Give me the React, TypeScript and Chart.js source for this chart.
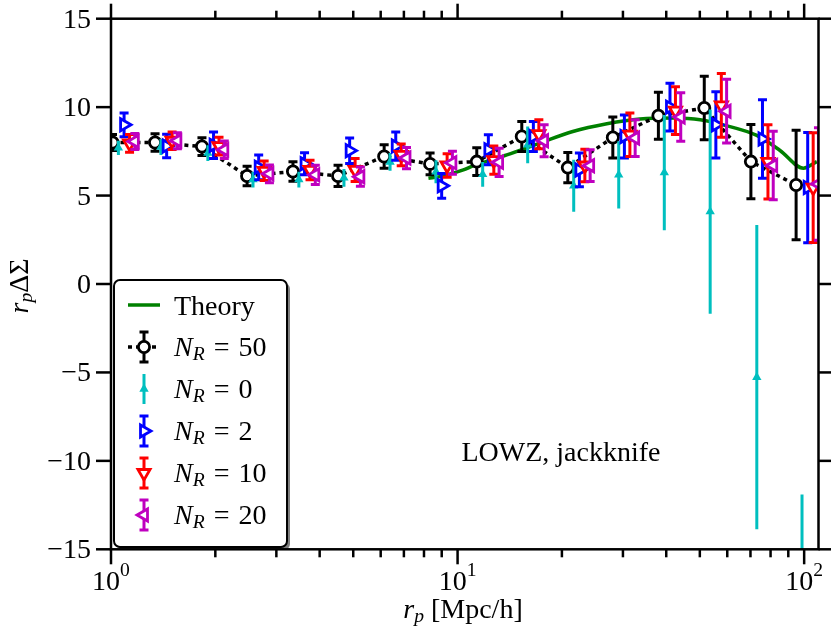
import { useEffect, useRef } from "react";
import { Chart, registerables } from "chart.js";
Chart.register(...registerables);

// bin centres, r_p in Mpc/h
const rp = [1.01, 1.34, 1.83, 2.47, 3.35, 4.52, 6.14, 8.33, 11.36, 15.32, 20.8, 28.05, 37.97, 51.5, 70.2, 94.8];

const nr50 = [8.0, 8.0, 7.77, 6.11, 6.36, 6.11, 7.21, 6.79, 6.92, 8.34, 6.58, 8.28, 9.51, 9.95, 6.92, 5.6];
const nr50Err = [0.45, 0.5, 0.5, 0.55, 0.55, 0.6, 0.66, 0.62, 0.78, 0.85, 0.85, 1.16, 1.33, 1.8, 2.1, 3.1];

const nr0 = [7.7, 7.75, 7.4, 5.9, 5.9, 6.0, 6.9, 6.35, 6.2, 7.87, 5.55, 6.17, 6.3, 4.09, -5.27, -21];
const nr0Err = [0.4, 0.45, 0.45, 0.45, 0.45, 0.5, 0.5, 0.65, 0.7, 1.04, 1.47, 1.9, 3.26, 5.77, 8.6, 9.1];

const nr2 = [9.0, 7.8, 7.85, 6.6, 6.8, 7.54, 7.8, 5.55, 7.59, 8.34, 6.45, 8.34, 10.0, 9.0, 8.2, 5.45];
const nr2Err = [0.67, 0.66, 0.75, 0.7, 0.62, 0.72, 0.8, 0.7, 0.85, 0.85, 0.95, 1.22, 1.35, 1.87, 2.22, 3.12];

const nr10 = [7.95, 8.1, 7.8, 6.4, 6.45, 6.45, 7.3, 6.7, 7.0, 8.47, 6.7, 8.44, 9.8, 10.1, 6.9, 5.45];
const nr10Err = [0.5, 0.5, 0.5, 0.55, 0.55, 0.65, 0.62, 0.66, 0.8, 0.82, 0.92, 1.23, 1.35, 1.8, 2.1, 3.1];

const nr20 = [8.06, 8.1, 7.59, 6.23, 6.17, 6.07, 7.12, 6.85, 6.88, 8.1, 6.69, 8.25, 9.44, 9.77, 6.7, 5.65];
const nr20Err = [0.45, 0.45, 0.5, 0.5, 0.55, 0.55, 0.6, 0.65, 0.8, 0.9, 0.9, 1.04, 1.37, 1.8, 1.94, 3.18];

const theoryRp = [8.24, 8.9, 10.39, 11.08, 13.87, 17.3, 21.5, 26.96, 33.6, 41.95, 50.1, 58.4, 73.0, 85.2, 99.5, 108.8];
const theoryVals = [5.98, 6.07, 6.45, 6.68, 7.3, 7.97, 8.62, 9.06, 9.33, 9.38, 9.29, 9.0, 8.4, 7.55, 6.55, 6.92];

const yTicks = [-15, -10, -5, 0, 5, 10, 15];
const xMajor = [1, 10, 100];
const xMajorExp = ["0", "1", "2"];
const xMinor = [2, 3, 4, 5, 6, 7, 8, 9, 20, 30, 40, 50, 60, 70, 80, 90];

const FONT = '"Liberation Serif", "Times New Roman", serif';

const series = [
  { name: "50", values: nr50, errors: nr50Err, color: "#000000", shift: 1, style: "circle", rot: 0, r: 5.6, fill: "#ffffff", cap: 4.5, line: true, order: 5 },
  { name: "0", values: nr0, errors: nr0Err, color: "#00bfbf", shift: 1.04, style: "triangle", rot: 0, r: 5.4, fill: "#00bfbf", cap: 0, line: false, order: 4 },
  { name: "2", values: nr2, errors: nr2Err, color: "#0000ff", shift: 1.08, style: "triangle", rot: 90, r: 7, fill: "#ffffff", cap: 4.5, line: false, order: 3 },
  { name: "10", values: nr10, errors: nr10Err, color: "#ff0000", shift: 1.12, style: "triangle", rot: 180, r: 7, fill: "#ffffff", cap: 4.5, line: false, order: 2 },
  { name: "20", values: nr20, errors: nr20Err, color: "#bf00bf", shift: 1.16, style: "triangle", rot: 270, r: 7, fill: "#ffffff", cap: 4.5, line: false, order: 1 },
];

type Part = { t: string; italic?: boolean; size?: number; dy?: number; gap?: number };

function drawRich(ctx: CanvasRenderingContext2D, parts: Part[], x: number, y: number, align: "left" | "center" | "right") {
  const fonts = parts.map((p) => `${p.italic ? "italic " : ""}${p.size || 28}px ${FONT}`);
  const widths = parts.map((p, i) => {
    ctx.font = fonts[i];
    return ctx.measureText(p.t).width + (p.gap || 0);
  });
  const total = widths.reduce((a, b) => a + b, 0);
  let cx = align === "left" ? x : align === "center" ? x - total / 2 : x - total;
  ctx.textAlign = "left";
  ctx.textBaseline = "alphabetic";
  parts.forEach((p, i) => {
    ctx.font = fonts[i];
    cx += p.gap || 0;
    ctx.fillText(p.t, cx, y + (p.dy || 0));
    cx += widths[i] - (p.gap || 0);
  });
}

function marker(ctx: CanvasRenderingContext2D, s: any, x: number, y: number) {
  ctx.beginPath();
  if (s.style === "circle") {
    ctx.arc(x, y, s.r, 0, Math.PI * 2);
  } else {
    let rad = (s.rot * Math.PI) / 180;
    ctx.moveTo(x + Math.sin(rad) * s.r, y - Math.cos(rad) * s.r);
    rad += (2 * Math.PI) / 3;
    ctx.lineTo(x + Math.sin(rad) * s.r, y - Math.cos(rad) * s.r);
    rad += (2 * Math.PI) / 3;
    ctx.lineTo(x + Math.sin(rad) * s.r, y - Math.cos(rad) * s.r);
    ctx.closePath();
  }
  ctx.fillStyle = s.fill;
  ctx.fill();
  if (s.fill === "#ffffff") {
    ctx.strokeStyle = s.color;
    ctx.lineWidth = 2.8;
    ctx.stroke();
  }
}

function seg(ctx: CanvasRenderingContext2D, x1: number, y1: number, x2: number, y2: number) {
  ctx.beginPath();
  ctx.moveTo(x1, y1);
  ctx.lineTo(x2, y2);
  ctx.stroke();
}

const errorBars = {
  id: "errorBars",
  beforeDatasetDraw(chart: any, args: any) {
    const ds = chart.data.datasets[args.index];
    if (!ds.errors) return;
    const { ctx, chartArea: ca } = chart;
    const ys = chart.scales.y;
    ctx.save();
    ctx.beginPath();
    ctx.rect(ca.left, ca.top, ca.right - ca.left, ca.bottom - ca.top);
    ctx.clip();
    ctx.strokeStyle = ds.pointBorderColor;
    ctx.lineWidth = 3;
    ctx.setLineDash([]);
    args.meta.data.forEach((pt: any, i: number) => {
      const v = ds.data[i].y;
      const e = ds.errors[i];
      const y1 = ys.getPixelForValue(v + e);
      const y2 = ys.getPixelForValue(v - e);
      seg(ctx, pt.x, y1, pt.x, y2);
      if (ds.capHalf) {
        seg(ctx, pt.x - ds.capHalf, y1, pt.x + ds.capHalf, y1);
        seg(ctx, pt.x - ds.capHalf, y2, pt.x + ds.capHalf, y2);
      }
    });
    ctx.restore();
  },
};

const decorations = {
  id: "decorations",
  afterDraw(chart: any) {
    const { ctx, chartArea: ca } = chart;
    const xs = chart.scales.x;
    const ys = chart.scales.y;
    ctx.save();
    ctx.strokeStyle = "#000";
    ctx.fillStyle = "#000";
    ctx.lineWidth = 2.5;
    ctx.setLineDash([]);
    ctx.strokeRect(ca.left, ca.top, ca.right - ca.left, ca.bottom - ca.top);

    xMajor.forEach((v, i) => {
      const px = xs.getPixelForValue(v);
      seg(ctx, px, ca.bottom, px, ca.bottom + 15);
      seg(ctx, px, ca.top, px, ca.top - 15);
      drawRich(ctx, [{ t: "10" }, { t: xMajorExp[i], size: 19.6, dy: -14 }], px, 590, "center");
    });
    xMinor.forEach((v) => {
      const px = xs.getPixelForValue(v);
      seg(ctx, px, ca.bottom, px, ca.bottom + 8);
      seg(ctx, px, ca.top, px, ca.top - 8);
    });
    yTicks.forEach((v) => {
      const py = ys.getPixelForValue(v);
      seg(ctx, ca.left - 15, py, ca.left, py);
      seg(ctx, ca.right, py, ca.right + 15, py);
      const txt = v < 0 ? "\u2212" + Math.abs(v) : String(v);
      drawRich(ctx, [{ t: txt }], 91, py + 9, "right");
    });

    // axis titles
    drawRich(ctx, [{ t: "r", italic: true }, { t: "p", italic: true, size: 19.6, dy: 4 }, { t: " [Mpc/h]" }], 463, 618, "center");
    ctx.save();
    ctx.translate(28, 286);
    ctx.rotate(-Math.PI / 2);
    drawRich(ctx, [{ t: "r", italic: true }, { t: "p", italic: true, size: 19.6, dy: 4 }, { t: "\u0394\u03a3" }], 0, 0, "center");
    ctx.restore();

    drawRich(ctx, [{ t: "LOWZ, jackknife" }], 561, 461, "center");

    // legend
    const L = 114, T = 280, W = 173, H = 267;
    ctx.fillStyle = "rgba(0,0,0,0.5)";
    ctx.beginPath();
    ctx.roundRect(L + 3, T + 3, W, H, 6);
    ctx.fill();
    ctx.fillStyle = "#fff";
    ctx.beginPath();
    ctx.roundRect(L, T, W, H, 6);
    ctx.fill();
    ctx.strokeStyle = "#000";
    ctx.lineWidth = 2;
    ctx.stroke();

    const hx = 144;
    const tx = 174;
    let ry = 305;
    ctx.strokeStyle = "#008000";
    ctx.lineWidth = 3.5;
    seg(ctx, 128, ry, 160, ry);
    ctx.fillStyle = "#000";
    drawRich(ctx, [{ t: "Theory" }], tx, ry + 10, "left");

    series.forEach((s) => {
      ry += 42;
      if (s.line) {
        ctx.strokeStyle = s.color;
        ctx.lineWidth = 3.5;
        ctx.setLineDash([4, 4]);
        seg(ctx, 128, ry, 160, ry);
        ctx.setLineDash([]);
      }
      ctx.strokeStyle = s.color;
      ctx.lineWidth = 3;
      seg(ctx, hx, ry - 15, hx, ry + 15);
      if (s.cap) {
        seg(ctx, hx - s.cap, ry - 15, hx + s.cap, ry - 15);
        seg(ctx, hx - s.cap, ry + 15, hx + s.cap, ry + 15);
      }
      marker(ctx, s, hx, ry);
      ctx.fillStyle = "#000";
      drawRich(
        ctx,
        [
          { t: "N", italic: true },
          { t: "R", italic: true, size: 19.6, dy: 4 },
          { t: "=", gap: 9 },
          { t: s.name, gap: 9 },
        ],
        tx,
        ry + 9,
        "left"
      );
    });
    ctx.restore();
  },
};

export default function App() {
  const chartRef = useRef<HTMLCanvasElement>(null);
  const chartInstance = useRef<Chart | null>(null);

  useEffect(() => {
    if (!chartRef.current) return;
    if (chartInstance.current) chartInstance.current.destroy();

    const datasets: any[] = [
      {
        label: "Theory",
        data: theoryRp.map((x, i) => ({ x, y: theoryVals[i] })),
        showLine: true,
        borderColor: "#008000",
        borderWidth: 3.5,
        pointRadius: 0,
        cubicInterpolationMode: "monotone",
        order: 10,
      },
      ...series.map((s) => ({
        label: "N_R = " + s.name,
        data: rp.map((x, i) => ({ x: x * s.shift, y: s.values[i] })),
        errors: s.errors,
        capHalf: s.cap,
        showLine: s.line,
        borderColor: s.color,
        borderWidth: 3.5,
        borderDash: [4, 4],
        pointStyle: s.style,
        rotation: s.rot,
        pointRadius: s.r,
        pointBackgroundColor: s.fill,
        pointBorderColor: s.color,
        pointBorderWidth: s.fill === "#ffffff" ? 2.8 : 0,
        order: s.order,
      })),
    ];

    chartInstance.current = new Chart(chartRef.current, {
      type: "scatter",
      data: { datasets },
      options: {
        animation: false,
        responsive: true,
        maintainAspectRatio: false,
        events: [],
        layout: { padding: { left: 111, right: 12.5, top: 18.7, bottom: 85.7 } },
        plugins: { legend: { display: false }, tooltip: { enabled: false } },
        scales: {
          x: { type: "logarithmic", min: 1, max: 110, display: false },
          y: { type: "linear", min: -15, max: 15, display: false },
        },
      },
      plugins: [errorBars, decorations],
    });

    return () => {
      chartInstance.current?.destroy();
      chartInstance.current = null;
    };
  }, []);

  return (
    <div style={{ position: "fixed", left: 0, top: 0, width: 831, height: 635, background: "#fff" }}>
      <canvas ref={chartRef}></canvas>
    </div>
  );
}
